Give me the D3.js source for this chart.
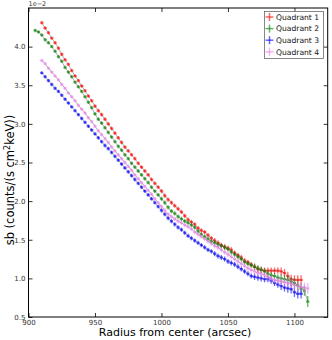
<!DOCTYPE html>
<html><head><meta charset="utf-8">
<script src="https://cdn.jsdelivr.net/npm/d3@7"></script>
<style>body{margin:0;background:#fff}svg{display:block}</style>
</head><body><svg id="c" width="332" height="340"></svg>
<script>
// Radius bins (arcsec), 905 .. 1110 step 2.5
const radii = d3.range(905, 1110.01, 2.5);
const xTicks = [900, 950, 1000, 1050, 1100];
const yTicks = [0.5, 1.0, 1.5, 2.0, 2.5, 3.0, 3.5, 4.0];
const seriesNames = ["Quadrant 1", "Quadrant 2", "Quadrant 3", "Quadrant 4"];
const seriesColors = ["#ff0000", "#008000", "#0000ff", "#ee82ee"];

// surface brightness, units of 1e-2 counts/(s cm^2 keV)
const q1 = [null, null,
 4.31,4.24,4.18,4.11,4.05,3.98,3.90,3.83,3.77,3.69,3.62,3.56,3.49,3.43,3.36,3.30,3.23,3.17,3.12,3.06,
 3.00,2.94,2.88,2.82,2.76,2.70,2.65,2.60,2.55,2.49,2.44,2.39,2.34,2.28,2.23,2.18,2.13,2.07,2.02,1.98,
 1.94,1.90,1.86,1.81,1.76,1.73,1.70,1.65,1.62,1.60,1.56,1.52,1.49,1.46,1.43,1.41,1.39,1.37,1.33,1.30,
 1.27,1.23,1.21,1.18,1.15,1.12,1.11,1.10,1.10,1.10,1.10,1.10,1.09,1.07,1.03,0.99,0.98,0.98,0.98,
 null, null];
const q2 = [
 4.21,4.19,4.15,4.09,4.05,4.00,3.94,3.87,3.81,3.73,3.67,3.61,3.54,3.48,3.42,3.35,3.28,3.21,3.13,3.06,
 3.01,2.95,2.89,2.83,2.77,2.71,2.66,2.60,2.55,2.49,2.44,2.39,2.34,2.29,2.24,2.18,2.13,2.08,2.03,1.98,
 1.92,1.87,1.84,1.80,1.77,1.74,1.72,1.69,1.66,1.61,1.57,1.54,1.51,1.48,1.46,1.44,1.42,1.40,1.38,1.34,
 1.31,1.28,1.25,1.21,1.19,1.17,1.15,1.13,1.11,1.09,1.06,1.04,1.03,1.01,1.00,0.99,0.98,0.96,0.94,0.91,
 0.87,0.84,0.70];
const q3 = [null, null,
 3.66,3.61,3.56,3.51,3.46,3.42,3.37,3.32,3.27,3.22,3.17,3.12,3.07,3.02,2.97,2.92,2.87,2.82,2.77,2.72,
 2.68,2.63,2.58,2.53,2.48,2.43,2.38,2.33,2.28,2.23,2.18,2.13,2.08,2.03,1.98,1.93,1.88,1.83,1.78,1.74,
 1.70,1.66,1.63,1.59,1.55,1.52,1.49,1.46,1.43,1.40,1.37,1.35,1.32,1.29,1.27,1.25,1.22,1.20,1.18,1.15,
 1.12,1.09,1.06,1.03,1.02,1.01,1.00,0.99,0.99,0.97,0.94,0.92,0.90,0.88,0.87,0.86,0.82,0.80,0.80,
 null, null];
const q4 = [null, null,
 3.82,3.78,3.72,3.67,3.62,3.57,3.51,3.46,3.40,3.35,3.30,3.24,3.19,3.14,3.08,3.03,2.97,2.91,2.86,2.81,
 2.76,2.70,2.65,2.60,2.55,2.50,2.45,2.40,2.34,2.29,2.24,2.19,2.14,2.09,2.03,1.98,1.93,1.88,1.83,1.80,
 1.77,1.74,1.72,1.69,1.67,1.64,1.60,1.57,1.54,1.51,1.48,1.45,1.42,1.40,1.37,1.34,1.31,1.28,1.25,1.22,
 1.19,1.16,1.13,1.11,1.09,1.07,1.06,1.04,1.02,1.00,0.98,0.97,0.96,0.95,0.94,0.93,0.91,0.90,0.89,
 0.88,0.87];
// 1-sigma uncertainty per bin (same units)
const sbErr = [
 0.012,0.012,0.012,0.012,0.012,0.012,0.012,0.012,0.012,0.012,0.012,0.012,0.012,0.012,0.012,0.012,0.012,0.012,
 0.014,0.014,0.014,0.014,0.014,0.014,0.014,0.014,0.014,0.014,0.014,0.014,0.014,0.014,0.014,0.014,0.014,0.014,0.014,0.014,
 0.017,0.017,0.017,0.017,0.017,0.017,0.017,0.017,0.017,0.017,0.017,0.017,0.017,0.017,0.017,0.017,
 0.022,0.022,0.022,0.022,0.022,0.022,0.022,0.022,0.022,0.022,0.022,0.022,
 0.03,0.03,0.03,0.03,0.03,0.03,0.03,0.03,
 0.04,0.04,0.045,0.045,0.05,0.05,0.05,0.055,0.06];
const binHalf = 1.25;

const series = [q1, q2, q3, q4];

const svg = d3.select("#c");
const L = 28.5, R = 327.7, T = 8, B = 317;
const x = d3.scaleLinear().domain([900, 1125]).range([L, R]);
const y = d3.scaleLinear().domain([0.5, 4.5]).range([B, T]);

const font = "DejaVu Sans, sans-serif";

// model / connecting lines
const line = d3.line().defined(d => d[1] != null).x(d => x(d[0])).y(d => y(d[1]));
series.forEach(s => {
  svg.append("path").datum(radii.map((r, i) => [r, s[i]]))
    .attr("d", line).attr("fill", "none").attr("stroke", "#8a8a8a").attr("stroke-width", 0.7);
});

// error-bar points
series.forEach((s, k) => {
  const g = svg.append("g").attr("stroke", seriesColors[k]).attr("stroke-opacity", 0.6);
  radii.forEach((r, i) => {
    const v = s[i];
    if (v == null) return;
    const e = sbErr[i];
    g.append("line").attr("x1", x(r - binHalf)).attr("x2", x(r + binHalf))
      .attr("y1", y(v)).attr("y2", y(v)).attr("stroke-width", 2.2);
    g.append("line").attr("x1", x(r)).attr("x2", x(r))
      .attr("y1", y(v - e) + 0.8).attr("y2", y(v + e) - 0.8).attr("stroke-width", 1.3);
  });
});

// frame
svg.append("rect").attr("x", L).attr("y", T).attr("width", R - L).attr("height", B - T)
  .attr("fill", "none").attr("stroke", "#000").attr("stroke-width", 1);

// axes with inward ticks
const tl = 4;
const gx = svg.append("g").attr("transform", `translate(0,${B})`)
  .call(d3.axisBottom(x).tickValues(xTicks).tickSize(-tl).tickPadding(3).tickFormat(d3.format("d")));
const gxt = svg.append("g").attr("transform", `translate(0,${T})`)
  .call(d3.axisTop(x).tickValues(xTicks).tickSize(-tl).tickFormat(""));
const gy = svg.append("g").attr("transform", `translate(${L},0)`)
  .call(d3.axisLeft(y).tickValues(yTicks).tickSize(-tl).tickPadding(3).tickFormat(d3.format(".1f")));
const gyr = svg.append("g").attr("transform", `translate(${R},0)`)
  .call(d3.axisRight(y).tickValues(yTicks).tickSize(-tl).tickFormat(""));
[gx, gxt, gy, gyr].forEach(g => {
  g.select(".domain").remove();
  g.selectAll("line").attr("stroke", "#000").attr("stroke-width", 0.8);
  g.selectAll("text").attr("font-family", font).attr("font-size", 7).attr("fill", "#333");
});

// offset text
svg.append("text").attr("x", L).attr("y", 6).attr("font-family", font).attr("font-size", 6.5)
  .attr("fill", "#333").text("1e\u22122");

// axis labels
svg.append("text").attr("x", (L + R) / 2 - 3).attr("y", 336).attr("text-anchor", "middle")
  .attr("font-family", font).attr("font-size", 11).attr("fill", "#000").text("Radius from center (arcsec)");
const yl = svg.append("text").attr("transform", `translate(14,180) rotate(-90)`)
  .attr("text-anchor", "middle").attr("font-family", font).attr("font-size", 11.5).attr("fill", "#000");
yl.append("tspan").text("sb (counts/(s cm");
yl.append("tspan").attr("dy", -4).attr("font-size", 8).text("2");
yl.append("tspan").attr("dy", 4).text("keV))");

// legend
const lg = svg.append("g");
lg.append("rect").attr("x", 264.5).attr("y", 11.5).attr("width", 59).attr("height", 47)
  .attr("fill", "#fff").attr("stroke", "#555").attr("stroke-width", 0.7);
seriesNames.forEach((n, k) => {
  const yy = 17 + k * 11.6;
  const c = lg.append("g").attr("stroke", seriesColors[k]).attr("stroke-opacity", 0.6).attr("stroke-width", 1.5);
  c.append("line").attr("x1", 265.5).attr("x2", 273.5).attr("y1", yy).attr("y2", yy);
  c.append("line").attr("x1", 269.5).attr("x2", 269.5).attr("y1", yy - 4).attr("y2", yy + 4);
  lg.append("text").attr("x", 276).attr("y", yy + 2.8).attr("font-family", font).attr("font-size", 7.6)
    .attr("fill", "#111").text(n);
});
</script>
</body></html>
